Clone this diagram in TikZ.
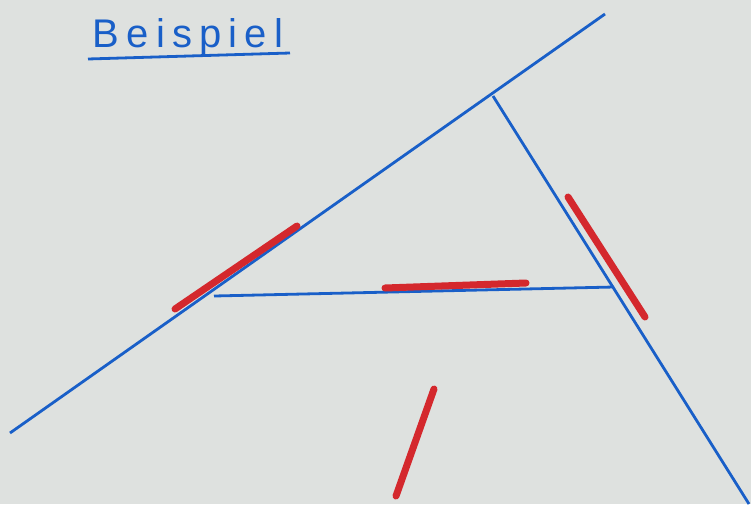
\documentclass[tikz,border=0pt]{standalone}
\usepackage{fontspec}
\setmainfont{Liberation Sans}
\usetikzlibrary{positioning,calc}
\definecolor{boardgray}{RGB}{222,225,223}
\definecolor{penblue}{RGB}{25,95,200}
\definecolor{stickred}{RGB}{212,40,45}

\begin{document}
\begin{tikzpicture}[x=1pt,y=-1pt,pen/.style={draw=penblue,line width=2.8pt},stick/.style={draw=stickred,line width=7pt,line cap=round}]
\fill[boardgray] (0,0) rectangle (751,504);
\useasboundingbox (0,0) rectangle (751,504);
% title
\node[text=penblue,font=\fontsize{40}{40}\selectfont\addfontfeature{LetterSpace=18},anchor=base] (title) at (188,47) {Beispiel};
\draw[pen] (88,59) -- (290,53);
% lines
\coordinate (a) at (10,433);
\coordinate (b) at (605,14);
\coordinate (p) at (493,96);
\coordinate (q) at (749,504);
\coordinate (l) at (214,296);
\coordinate (r) at (614,287);
\draw[pen] (a) -- (b);
\draw[pen] (p) -- (q);
\draw[pen] (l) -- (r);
% sticks
\draw[stick] (175,309) -- (297,226);
\draw[stick] (385,288) -- (526,283);
\draw[stick] (568,197) -- (645,317);
\draw[stick] (434,389) -- (396,496);
\end{tikzpicture}
\end{document}
